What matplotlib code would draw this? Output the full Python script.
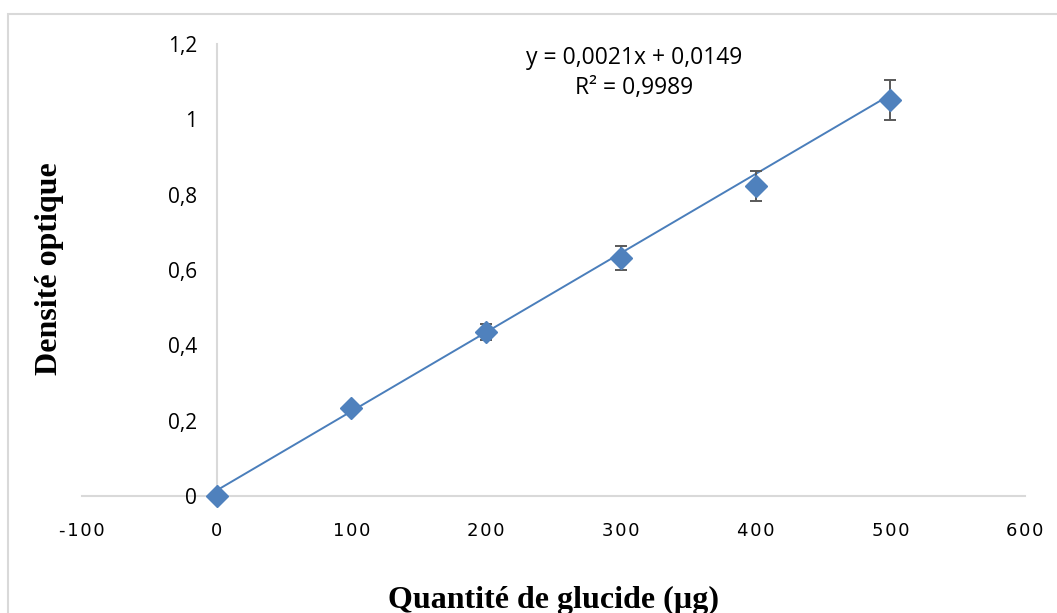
import numpy as np
import matplotlib.pyplot as plt
from matplotlib.patches import Rectangle

# courbe d'etalonnage : quantite de glucide vs densite optique
quantite = [0, 100, 200, 300, 400, 500]
densite = [0.0, 0.234, 0.435, 0.632, 0.823, 1.051]
erreur = [0.0, 0.005, 0.021, 0.033, 0.041, 0.053]

pente = 0.0021
ordonnee = 0.0149
r2 = 0.9989

xticks = [-100, 0, 100, 200, 300, 400, 500, 600]
yticks = [0, 0.2, 0.4, 0.6, 0.8, 1.0, 1.2]

bleu = '#4f81bd'
gris = '#d9d9d9'

fig = plt.figure(figsize=(10.57, 6.13), dpi=100)
ax = fig.add_axes([82/1057, 1-496/613, (1025-82)/1057, (496-44)/613])

# droite de tendance
xl = np.array([0, 500])
ax.plot(xl, pente*xl + ordonnee, color='#4a7ebb', lw=1.4, zorder=2)

ax.errorbar(quantite, densite, yerr=erreur, fmt='D', color=bleu, ms=11,
            ecolor='#595959', elinewidth=1.4, capsize=4.3, capthick=1.4,
            zorder=3, clip_on=False)

ax.set_xlim(-100, 600)
ax.set_ylim(0, 1.2)

for s in ['top', 'right']:
    ax.spines[s].set_visible(False)
ax.spines['left'].set_position(('data', 0))
ax.spines['left'].set_color(gris)
ax.spines['left'].set_linewidth(1.5)
ax.spines['left'].set_zorder(1)
ax.spines['bottom'].set_color(gris)
ax.spines['bottom'].set_linewidth(1.5)
ax.spines['bottom'].set_zorder(1)

ax.set_yticks(yticks)
ax.set_yticklabels([('%g' % v).replace('.', ',') for v in yticks],
                   fontfamily='Open Sans', fontsize=15)
ax.set_xticks(xticks)
ax.set_xticklabels(['\u200a'.join(str(v)) for v in xticks],
                   fontfamily='DejaVu Sans', fontsize=13)
ax.tick_params(axis='y', length=0, pad=14)
ax.tick_params(axis='x', length=0, pad=19)

ax.text(310, 1.163, 'y = 0,0021x + 0,0149', ha='center', va='center',
        fontfamily='Open Sans', fontsize=16.5)
ax.text(310, 1.083, 'R² = %s' % str(r2).replace('.', ','), ha='center', va='center',
        fontfamily='Open Sans', fontsize=16.5)

fig.text(553/1057, 1-600/613, 'Quantité de glucide (µg)', ha='center', va='center',
         fontfamily='Liberation Serif', fontweight='bold', fontsize=23)
fig.text(50/1057, 1-269/613, 'Densité optique', ha='center', va='center',
         rotation=90, fontfamily='Liberation Serif', fontweight='bold', fontsize=23)

# cadre du graphique
fig.patches.append(Rectangle((8/1057, -0.05), 1.1, 1-14/613+0.05,
                             transform=fig.transFigure, fill=False,
                             edgecolor=gris, lw=1.5))

fig.savefig('out.png', dpi=100)
